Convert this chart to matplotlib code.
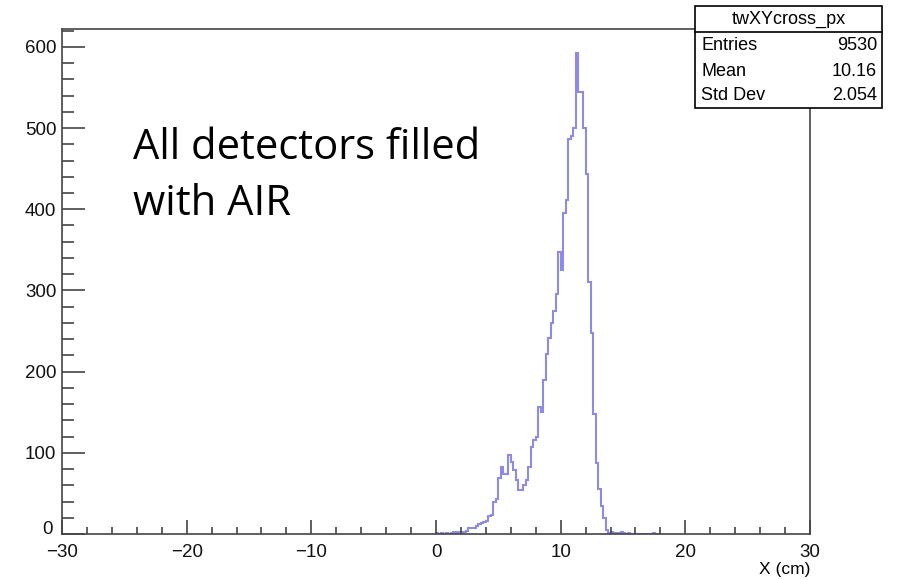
import numpy as np
import matplotlib
matplotlib.use('Agg')
import matplotlib.pyplot as plt
from matplotlib.ticker import MultipleLocator
from matplotlib.transforms import ScaledTranslation

# histogram twXYcross_px, 0.2 cm bins starting at x = 0
BIN_LO = 0.0
BIN_W = 0.2
counts = [
    1, 0, 1, 0, 1, 0, 1, 2, 1, 2,              # 0 - 2 cm
    1, 2, 4, 7, 8, 8, 10, 12, 14, 15,          # 2 - 4
    16, 22, 24, 40, 43, 69, 82, 74, 74, 97,    # 4 - 6
    89, 79, 67, 54, 54, 60, 66, 82, 107, 116,  # 6 - 8
    120, 156, 150, 190, 222, 242, 260, 275, 296, 347,  # 8 - 10
    325, 395, 411, 487, 490, 500, 592, 545, 545, 500,  # 10 - 12
    444, 310, 247, 148, 88, 56, 34, 20, 5, 1,  # 12 - 14
    2, 1, 0, 1, 2, 1, 0, 1, 0, 0,              # 14 - 16
    0, 0, 0, 0, 0, 0, 0, 1, 0, 0,              # 16 - 18
]

hist_name = 'twXYcross_px'
stat_labels = ['Entries', 'Mean', 'Std Dev']
stat_values = ['9530', '10.16', '2.054']
note = 'All detectors filled\nwith AIR'

XMIN, XMAX = -30, 30
YMAX = 622
y_ticks = [0, 100, 200, 300, 400, 500, 600]

plt.rcParams['font.family'] = ['Liberation Sans', 'DejaVu Sans']

fig = plt.figure(figsize=(9, 5.8), dpi=100)
ax = fig.add_axes([62 / 900, 46 / 580, (810 - 62) / 900, (534 - 29) / 580])

edges = BIN_LO + BIN_W * np.arange(len(counts) + 1)
ax.stairs(counts, edges, color='#8c8ce6', lw=1.5, zorder=1)

ax.set_xlim(XMIN, XMAX)
ax.set_ylim(0, YMAX)
ax.xaxis.set_major_locator(MultipleLocator(10))
ax.xaxis.set_minor_locator(MultipleLocator(2))
ax.set_yticks(y_ticks)
ax.yaxis.set_minor_locator(MultipleLocator(20))
ax.tick_params(axis='both', which='both', direction='in', color='#444444',
               width=1.2, labelsize=13.5, labelcolor='#111111')
ax.tick_params(axis='x', which='major', length=10, pad=7)
ax.tick_params(axis='x', which='minor', length=5)
ax.tick_params(axis='y', which='major', length=16.5, pad=4)
ax.tick_params(axis='y', which='minor', length=8.5)
for sp in ax.spines.values():
    sp.set_color('#444444')
    sp.set_linewidth(1.2)
    sp.set_zorder(3)

# lift the "0" label a little, as ROOT does
zero_lab = ax.get_yticklabels()[0]
zero_lab.set_transform(zero_lab.get_transform() +
                       ScaledTranslation(-3 / 72, 5 / 72, fig.dpi_scale_trans))

ax.set_xlabel('X (cm)', fontsize=12.5, loc='right', labelpad=1)

# note written on the slide
fig.text(133 / 900, 1 - 127 / 580, note, fontsize=30, family='Open Sans',
         va='top', ha='left', linespacing=1.45, color='black')

# ROOT style stats box
bx0, bx1 = 695 / 900, 882 / 900
by_top, by_bot = 1 - 6 / 580, 1 - 108 / 580
title_bot = 1 - 32 / 580
box = plt.Rectangle((bx0, by_bot), bx1 - bx0, by_top - by_bot,
                    transform=fig.transFigure, fc='white', ec='black', lw=1.2)
fig.add_artist(box)
fig.add_artist(plt.Line2D([bx0, bx1], [title_bot, title_bot],
                          transform=fig.transFigure, color='black', lw=1.2))
fig.text((bx0 + bx1) / 2, 1 - 19 / 580, hist_name, ha='center', va='center',
         fontsize=13)
row_y = [46, 71, 96]
for lab, val, ry in zip(stat_labels, stat_values, row_y):
    fig.text(bx0 + 6 / 900, 1 - ry / 580, lab, ha='left', va='center', fontsize=13)
    fig.text(bx1 - 5 / 900, 1 - ry / 580, val, ha='right', va='center', fontsize=13)

fig.savefig('out.png', dpi=100)
